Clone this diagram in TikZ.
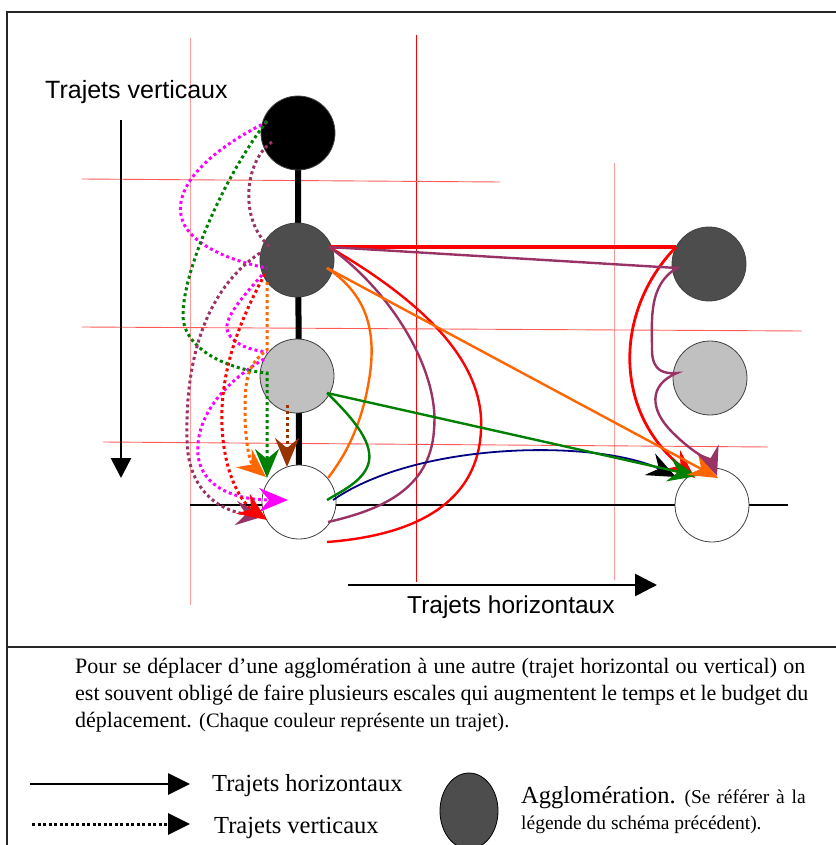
\documentclass[tikz,border=0pt]{standalone}
\usepackage{fontspec}
\setmainfont{Liberation Serif}
\newfontfamily\sansf{Liberation Sans}
\usetikzlibrary{arrows.meta,shapes.geometric,calc,backgrounds}
\definecolor{mag}{HTML}{FF00FF}
\definecolor{grn}{HTML}{008000}
\definecolor{plumc}{HTML}{993366}
\definecolor{org}{HTML}{FF6600}
\definecolor{brn}{HTML}{993300}
\definecolor{nav}{HTML}{000080}
\definecolor{dgray}{HTML}{4D4D4D}
\definecolor{lgray}{HTML}{C0C0C0}
\definecolor{gridr}{HTML}{FF5A5A}
\definecolor{gridp}{HTML}{FF9A9A}
\newcommand\myfs[1]{\fontsize{#1}{#1}\selectfont}
\begin{document}
\begin{tikzpicture}[x=1pt,y=-1pt,
  agg/.style={circle,minimum size=74pt,inner sep=0pt,draw=black!75,line width=0.8pt},
  solidp/.style={line width=2.4pt},
  dotp/.style={line width=3pt,dash pattern=on 3pt off 3pt},
  headarr/.style={-{Stealth[length=29pt,width=24pt,inset=10pt]}},
  gridl/.style={line width=0.9pt},
  lbl/.style={inner sep=0pt,anchor=base west}]
\useasboundingbox (0,0) rectangle (835,845);

% agglomerations
\node[agg,fill=black] (c1) at (298,133) {};
\node[agg,fill=dgray] (c2) at (297,260) {};
\node[agg,fill=lgray] (c3) at (297,376) {};
\node[agg,fill=white] (c4) at (299,502) {};
\node[agg,fill=dgray] (r2) at (709,264) {};
\node[agg,fill=lgray] (r3) at (710,378) {};
\node[agg,fill=white] (r4) at (712,505) {};

\begin{scope}[on background layer]
  \draw[gridl,gridp] (190,38) -- (190,605);
  \draw[gridl,red] (416,35) -- (416,582);
  \draw[gridl,gridp] (614,163) -- (614,580);
  \draw[gridl,gridr] (82,179) -- (500,182);
  \draw[gridl,gridr] (82,327) -- (802,331);
  \draw[gridl,gridr] (103,442) -- (768,447);
  \draw[line width=6pt] (c1.center) -- (c4.center);
  \coordinate (hl1) at (190,505);
  \coordinate (hl2) at (788,505);
  \draw[line width=2.4pt] (hl1) -- (hl2);
  \draw[line width=2pt,black!85] (7,860) -- (7,12) -- (860,12);
  \draw[line width=2pt,black!85] (7,647) -- (860,647);
\end{scope}

% axis labels and arrows
\node[lbl,font=\sansf\myfs{25}] (tv) at (45,99) {Trajets verticaux};
\coordinate (va) at (121,120);
\coordinate (vb) at (121,478);
\draw[line width=2.6pt,-{Triangle[length=20pt,width=20pt]}] (va) -- (vb);
\coordinate (ha) at (348,585);
\coordinate (hb) at (657,585);
\draw[line width=2.6pt,-{Triangle[length=22pt,width=22pt]}] (ha) -- (hb);
\node[lbl,font=\sansf\myfs{24.5}] (th) at (407,613) {Trajets horizontaux};

% ---------- vertical (dotted) trips ----------
% magenta
\draw[dotp,mag] ($(c1.center)+(-31,-11)$) .. controls (220,145) and (175,180) .. (181,215)
   .. controls (186,245) and (235,262) .. ($(c2.center)+(-30,8)$);
\draw[dotp,mag] ($(c2.center)+(-35,15)$) .. controls (240,300) and (222,320) .. (228,333)
   .. controls (235,345) and (250,350) .. ($(c3.center)+(-30,-24)$);
\draw[dotp,mag,headarr] ($(c3.center)+(-33,-17)$) .. controls (220,385) and (195,420) .. (198,455)
   .. controls (202,490) and (240,500) .. ($(c4.center)+(-11,-2)$);
% green
\draw[dotp,grn,headarr] ($(c1.center)+(-31,-12)$) .. controls (225,175) and (183,270) .. (183,315)
   .. controls (183,350) and (230,370) .. ($(c3.center)+(-30,-3)$) -- ($(c4.center)+(-32,-24)$);
% plum
\draw[dotp,plumc] ($(c1.center)+(-26,9)$) .. controls (245,160) and (238,220) .. ($(c2.center)+(-27,-13)$);
\draw[dotp,plumc,headarr] ($(c2.center)+(-37,-7)$) .. controls (205,290) and (185,360) .. (187,440)
   .. controls (188,495) and (225,512) .. ($(c4.center)+(-34,14)$);
% orange
\draw[dotp,org,headarr] ($(c2.center)+(-30,22)$) -- ($(c2.center)+(-30,90)$)
   .. controls (247,365) and (245,380) .. (245,410)
   .. controls (245,450) and (252,465) .. ($(c4.center)+(-33,-25)$);
% red
\draw[dotp,red,headarr] ($(c2.center)+(-32,14)$) .. controls (240,320) and (220,370) .. (222,425)
   .. controls (224,480) and (245,505) .. ($(c4.center)+(-32,18)$);
% brown
\draw[dotp,brn,headarr] ($(c3.center)+(-10,29)$) -- ($(c4.center)+(-12,-35)$);

% ---------- horizontal (solid) trips ----------
\coordinate (p1) at ($(c2.center)+(32,-13)$);
% red straight
\draw[red,line width=3.8pt] (p1) -- ($(r2.center)+(-33,-17)$);
% red curve down the right column
\draw[red,line width=2.8pt,headarr] ($(r2.center)+(-33,-17)$)
   .. controls (615,310) and (612,410) .. ($(r4.center)+(-17,-27)$);
% red curve back to white circle
\draw[red,solidp] (p1) .. controls (420,300) and (485,360) .. (481,430)
   .. controls (478,500) and (420,535) .. ($(c4.center)+(28,40)$);
% plum curve back to white circle
\draw[plumc,solidp] (p1) .. controls (390,290) and (440,370) .. (434,430)
   .. controls (430,490) and (380,510) .. ($(c4.center)+(29,20)$);
% orange
\draw[org,solidp] ($(c2.center)+(30,8)$) .. controls (375,300) and (378,345) .. (365,400)
   .. controls (355,440) and (340,462) .. ($(c4.center)+(29,-24)$);
% green curve
\draw[grn,solidp] ($(c3.center)+(30,17)$) .. controls (355,420) and (375,445) .. (368,465)
   .. controls (362,482) and (340,492) .. ($(c4.center)+(28,-2)$);
% navy
\draw[nav,line width=1.8pt,-{Stealth[length=29pt,width=24pt,inset=10pt,color=black]}]
   ($(c4.center)+(34,-2)$) .. controls (420,440) and (600,440) .. ($(r4.center)+(-36,-28)$);
% green straight
\draw[grn,solidp,headarr] ($(c3.center)+(30,17)$) -- ($(r4.center)+(-15,-29)$);
% orange straight
\draw[org,solidp,headarr] ($(c2.center)+(30,8)$) -- ($(r4.center)+(6,-27)$);
% plum via right column
\draw[plumc,solidp,headarr] (p1) -- ($(r2.center)+(-32,4)$)
   .. controls (648,285) and (652,320) .. (652,350)
   .. controls (652,372) and (665,374) .. ($(r3.center)+(-33,-5)$)
   .. controls (648,385) and (650,410) .. (672,432)
   .. controls (695,455) and (712,462) .. ($(r4.center)+(5,-29)$);

% ---------- caption ----------
\node[lbl,font=\myfs{22}] (t1) at (75,673)
  {\makebox[730pt][s]{Pour se déplacer d’une agglomération à une autre (trajet horizontal ou vertical) on}};
\node[lbl,font=\myfs{22}] (t2) at (75,700)
  {\makebox[733pt][s]{est souvent obligé de faire plusieurs escales qui augmentent le temps et le budget du}};
\node[lbl,font=\myfs{22}] (t3) at (75,727)
  {déplacement. {\myfs{20.5}(Chaque couleur représente un trajet).}};

% ---------- legend ----------
\coordinate (la) at (30,784);
\coordinate (lb) at (190,784);
\coordinate (lc) at (32,824);
\coordinate (ld) at (190,824);
\draw[line width=2.8pt,-{Triangle[length=22pt,width=21pt]}] (la) -- (lb);
\draw[line width=3pt,dash pattern=on 3pt off 2.5pt,-{Triangle[length=22pt,width=21pt]}] (lc) -- (ld);
\node[lbl,font=\myfs{24.5}] (lt1) at (212,791) {Trajets horizontaux};
\node[lbl,font=\myfs{24.5}] (lt2) at (214,833) {Trajets verticaux};
\node[ellipse,minimum width=58pt,minimum height=76pt,inner sep=0pt,fill=dgray,draw=black,line width=0.8pt] (lg) at (469,811) {};
\node[lbl] (lt3) at (521,803) {\myfs{24.5}Agglomération.\hspace{9pt}\makebox[121pt][s]{\myfs{19.5}(Se référer à la}};
\node[lbl,font=\myfs{19.5}] (lt4) at (521,829) {légende du schéma précédent).};
\end{tikzpicture}
\end{document}
